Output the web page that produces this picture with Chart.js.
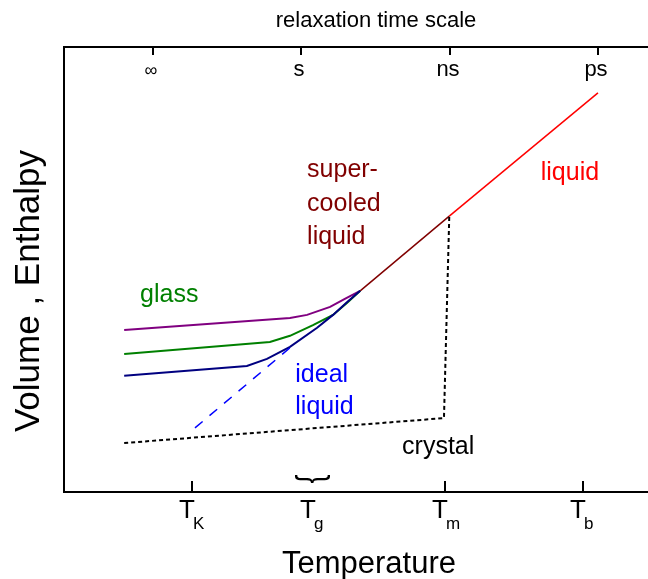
<!DOCTYPE html>
<html>
<head>
<meta charset="utf-8">
<script src="https://cdn.jsdelivr.net/npm/chart.js@4.4.1/dist/chart.umd.min.js"></script>
<style>
  html, body { margin: 0; padding: 0; background: #fff; overflow: hidden; }
  #wrap { position: relative; width: 660px; height: 579px; }
</style>
</head>
<body>
<div id="wrap"><canvas id="chart" width="660" height="579"></canvas></div>
<script>
// temperature (x) and volume/enthalpy (y) in arbitrary units, 0..10 on both axes
const liquid      = [[6.53, 6.20], [9.05, 8.97]];
const supercooled = [[5.02, 4.52], [6.53, 6.20]];
const glassFast   = [[1.02, 3.64], [3.83, 3.91], [4.12, 3.98], [4.51, 4.16], [4.76, 4.34], [5.02, 4.52]];
const glassMid    = [[1.02, 3.10], [3.49, 3.37], [3.83, 3.51], [4.22, 3.75], [4.56, 3.98], [4.80, 4.25], [5.02, 4.52]];
const glassSlow   = [[1.02, 2.61], [3.10, 2.83], [3.44, 2.99], [3.83, 3.26], [4.29, 3.69], [4.56, 3.98], [4.80, 4.27], [5.02, 4.52]];
const idealLiquid = [[2.22, 1.44], [3.83, 3.24]];
const crystal     = [[1.02, 1.10], [6.44, 1.66], [6.53, 6.20]];

// characteristic temperatures along the bottom, relaxation times along the top
const tempTicks  = [2.17, 4.22, 6.46, 8.80];
const tempSubs   = ['K', 'g', 'm', 'b'];
const timeTicks  = [1.51, 4.02, 6.54, 9.05];
const timeLabels = ['\u221E', 's', 'ns', 'ps'];

const FONT = '"Liberation Sans", Arial, sans-serif';

const notes = [
  { text: 'super-',  x: 4.12, y: 7.24, color: '#800000' },
  { text: 'cooled',  x: 4.12, y: 6.47, color: '#800000' },
  { text: 'liquid',  x: 4.12, y: 5.73, color: '#800000' },
  { text: 'liquid',  x: 8.08, y: 7.17, color: '#ff0000' },
  { text: 'glass',   x: 1.29, y: 4.43, color: '#008000' },
  { text: 'ideal',   x: 3.92, y: 2.63, color: '#0000ff' },
  { text: 'liquid',  x: 3.92, y: 1.91, color: '#0000ff' },
  { text: 'crystal', x: 5.73, y: 1.01, color: '#000000' }
];

const toXY = (pts) => pts.map(([x, y]) => ({ x, y }));

const line = (data, color, width, dash) => ({
  data: toXY(data),
  showLine: true,
  borderColor: color,
  borderWidth: width,
  borderDash: dash || [],
  pointRadius: 0,
  fill: false,
  tension: 0
});

const diagramText = {
  id: 'diagramText',
  afterDraw(chart) {
    const { ctx, chartArea: area, scales: { x, y } } = chart;
    ctx.save();
    ctx.strokeStyle = '#000';
    ctx.fillStyle = '#000';
    ctx.lineWidth = 2;

    // bottom axis: ticks pointing up, T with subscripts
    tempTicks.forEach((v, i) => {
      const px = Math.round(x.getPixelForValue(v));
      if (tempSubs[i] === 'g') {
        // Tg is a range, marked with a brace instead of a tick
        ctx.save();
        ctx.translate(px, area.bottom - 13);
        ctx.rotate(Math.PI / 2);
        ctx.scale(0.9, 1.25);
        ctx.font = '30px ' + FONT;
        ctx.textAlign = 'center';
        ctx.textBaseline = 'middle';
        ctx.fillText('}', 0, 0);
        ctx.restore();
      } else {
        ctx.beginPath();
        ctx.moveTo(px, area.bottom);
        ctx.lineTo(px, area.bottom - 11);
        ctx.stroke();
      }
      ctx.textBaseline = 'alphabetic';
      ctx.textAlign = 'center';
      ctx.font = '26px ' + FONT;
      ctx.fillText('T', px - 5, area.bottom + 26);
      ctx.textAlign = 'left';
      ctx.font = '17px ' + FONT;
      ctx.fillText(tempSubs[i], px + 1, area.bottom + 37);
    });

    // top axis: relaxation times, ticks pointing down
    timeTicks.forEach((v, i) => {
      const px = Math.round(x.getPixelForValue(v));
      ctx.beginPath();
      ctx.moveTo(px, area.top);
      ctx.lineTo(px, area.top + 8);
      ctx.stroke();
      ctx.textAlign = 'center';
      ctx.textBaseline = 'alphabetic';
      ctx.font = (timeLabels[i] === '\u221E' ? '18px ' : '22px ') + FONT;
      ctx.fillText(timeLabels[i], px - 2, area.top + 29);
    });

    // axis titles
    ctx.textAlign = 'center';
    ctx.textBaseline = 'alphabetic';
    ctx.font = '22px ' + FONT;
    ctx.fillText('relaxation time scale', 376, area.top - 20);
    ctx.font = '31px ' + FONT;
    ctx.fillText('Temperature', 369, area.bottom + 81);
    ctx.save();
    ctx.translate(39, 291);
    ctx.rotate(-Math.PI / 2);
    ctx.font = '35px ' + FONT;
    ctx.fillText('Volume , Enthalpy', 0, 0);
    ctx.restore();

    // region labels inside the frame
    ctx.textAlign = 'left';
    ctx.textBaseline = 'middle';
    ctx.font = '25px ' + FONT;
    notes.forEach((n) => {
      ctx.fillStyle = n.color;
      ctx.fillText(n.text, x.getPixelForValue(n.x), y.getPixelForValue(n.y));
    });
    ctx.restore();
  }
};

const frameAxis = (position) => ({
  type: 'linear',
  position,
  min: 0,
  max: 10,
  grid: { display: false, drawTicks: false },
  border: { display: true, color: '#000', width: 2 },
  ticks: { display: false }
});

new Chart(document.getElementById('chart'), {
  type: 'scatter',
  data: {
    datasets: [
      line(crystal, '#000000', 2, [4, 3]),
      line(idealLiquid, '#0000ff', 1.5, [10, 9]),
      line(glassSlow, '#000080', 2),
      line(glassMid, '#008000', 2),
      line(glassFast, '#800080', 2),
      line(supercooled, '#800000', 1.5),
      line(liquid, '#ff0000', 1.5)
    ]
  },
  options: {
    responsive: false,
    animation: false,
    devicePixelRatio: 1,
    layout: { padding: { left: 64, right: 6, top: 47, bottom: 87 } },
    plugins: { legend: { display: false }, tooltip: { enabled: false } },
    scales: {
      x: frameAxis('bottom'),
      xTop: frameAxis('top'),
      y: frameAxis('left')
    }
  },
  plugins: [diagramText]
});
</script>
</body>
</html>
